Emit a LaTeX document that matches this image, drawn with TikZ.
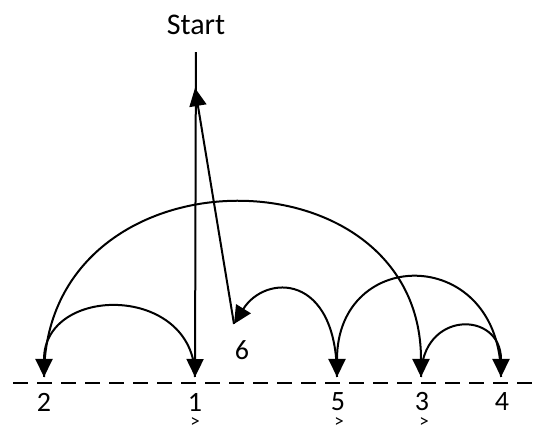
\documentclass[tikz,border=0pt]{standalone}
\usepackage{fontspec}
\setmainfont{Carlito}
\usetikzlibrary{arrows.meta,positioning}

\begin{document}
\begin{tikzpicture}[
  x=1pt, y=1pt,
  num/.style={inner sep=0pt, font=\fontsize{28}{30}\selectfont},
  tick/.style={inner sep=0pt, font=\fontsize{19}{20}\selectfont},
  link/.style={->, line width=2pt},
  >={Triangle[length=18pt,width=17pt]}
]
  \useasboundingbox (0,0) rectangle (537,430);

  % points on the line
  \coordinate (p2) at (44,53);
  \coordinate (p1) at (195,53);
  \coordinate (p5) at (337,53);
  \coordinate (p3) at (421,53);
  \coordinate (p4) at (501,53);
  \coordinate (p6) at (234,106);
  \coordinate (tip) at (195,342);

  \node[num, font=\fontsize{30}{32}\selectfont] (start) at (196,405) {Start};
  \node[num] (n2) at (44,28) {2};
  \node[num] (n1) at (195,28) {1};
  \node[num] (n5) at (338,28) {5};
  \node[num] (n3) at (422,28) {3};
  \node[num] (n4) at (502,28) {4};
  \node[num] (n6) at (242,80) {6};

  \node[tick] (g1) at (195,7) {>};
  \node[tick] (g5) at (339,7) {>};
  \node[tick] (g3) at (424,7) {>};

  \draw[line width=1.8pt, dash pattern=on 15pt off 9pt] (13,47) -- (532,47);

  \draw[link, shorten <=17pt] (start) -- (p1);
  \draw[link] (p1) .. controls +(0,93) and +(0,93) .. (p2);
  \draw[link] (p2) .. controls +(0,232) and +(0,232) .. (p3);
  \draw[link] (p3) .. controls +(0,67) and +(0,67) .. (p4);
  \draw[link] (p4) .. controls +(0,132) and +(0,132) .. (p5);
  \draw[link] (p5) .. controls +(0,105) and +(31,50) .. (p6);
  \draw[link] (p6) -- (tip);
\end{tikzpicture}
\end{document}
